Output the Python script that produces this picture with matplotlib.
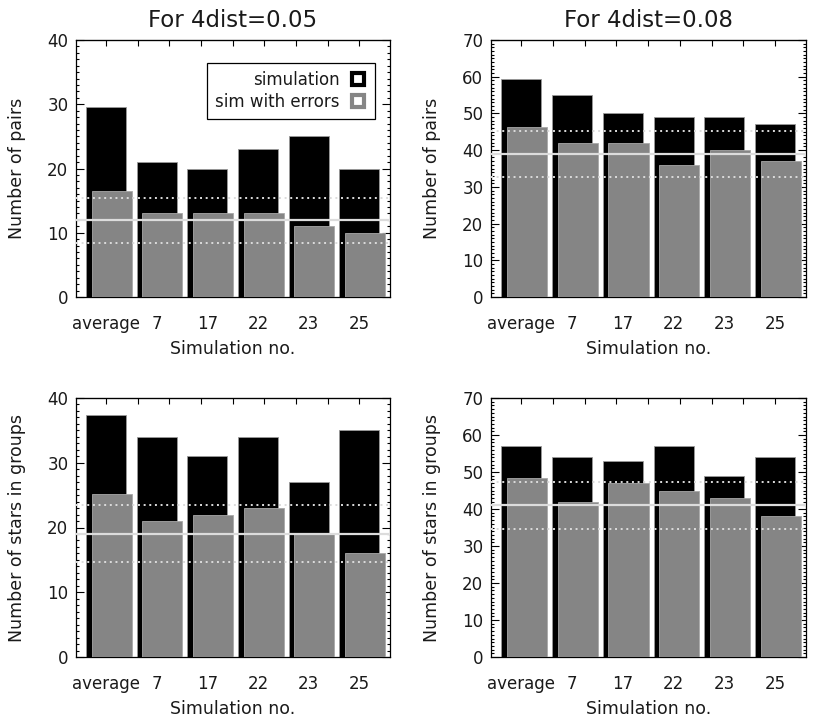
"""Four bar panels: simulated pairs / stars in groups, with and without errors."""
import matplotlib

matplotlib.use("Agg")
import matplotlib.pyplot as plt  # noqa: E402
import numpy as np  # noqa: E402
from matplotlib.lines import Line2D  # noqa: E402
from matplotlib.ticker import MultipleLocator  # noqa: E402

plt.rcParams["font.family"] = ["DejaVu Sans"]
plt.rcParams["text.color"] = "#1a1a1a"
plt.rcParams["axes.labelcolor"] = "#1a1a1a"
plt.rcParams["xtick.labelcolor"] = "#1a1a1a"
plt.rcParams["ytick.labelcolor"] = "#1a1a1a"

# ---------------------------------------------------------------- data
categories = ["average", "7", "17", "22", "23", "25"]

pairs_005_sim = [29.5, 21, 20, 23, 25, 20]
pairs_005_err = [16.5, 13, 13, 13, 11, 10]
pairs_005_band = [12.0, 8.4, 15.4]          # mean, lower, upper

pairs_008_sim = [59.5, 55, 50, 49, 49, 47]
pairs_008_err = [46.2, 42, 42, 36, 40, 37]
pairs_008_band = [39.0, 32.8, 45.2]

stars_005_sim = [37.3, 34, 31, 34, 27, 35]
stars_005_err = [25.1, 21, 22, 23, 19, 16]
stars_005_band = [19.0, 14.6, 23.4]

stars_008_sim = [57.1, 54, 53, 57, 49, 54]
stars_008_err = [48.3, 42, 47, 45, 43, 38]
stars_008_band = [41.1, 34.5, 47.3]

titles = ["For 4dist=0.05", "For 4dist=0.08"]
ylabels = ["Number of pairs", "Number of stars in groups"]
xlabel = "Simulation no."

BLACK = "#000000"
GREY = "#858585"
LINE = "#dcdcdc"
W = 0.79          # bar width
SHIFT = 0.112     # grey bar offset to the right
PX_W, PX_H = 830, 717


def rect(x0, y0, x1, y1):
    """pixel box (top-left origin) -> figure fraction rect"""
    return [x0 / PX_W, 1 - y1 / PX_H, (x1 - x0) / PX_W, (y1 - y0) / PX_H]


def panel(ax, sim, err, band, ymax, title=None, ylabel="", legend=False):
    x = np.arange(len(categories))
    ax.bar(x, sim, W, color=BLACK, edgecolor="#9a9a9a", linewidth=0.6, zorder=2)
    ax.bar(x + SHIFT, err, W, color=GREY, edgecolor="#a8a8a8", linewidth=0.6, zorder=3)
    mean, lo, hi = band
    ax.axhline(mean, color=LINE, lw=1.6, zorder=4)
    for v in (lo, hi):
        ax.axhline(v, color=LINE, lw=1.4, ls=(0, (1, 1.9)), zorder=4)

    ax.set_xlim(-0.592, len(categories) - 1 + 0.605)
    ax.set_ylim(0, ymax)

    # x: labels under black bars, tick marks under grey bars
    ax.set_xticks(x)
    ax.set_xticklabels(categories)
    ax.set_xticks(x + SHIFT, minor=True)
    ax.tick_params(axis="x", which="major", length=0, pad=13, labelsize=12)
    ax.tick_params(axis="x", which="minor", length=5, width=0.8, direction="in",
                   bottom=True, top=False)
    top = ax.secondary_xaxis("top")
    top.set_xticks(np.linspace(0, len(categories) - 1, 9))
    top.tick_params(direction="in", length=4, width=0.8, labeltop=False)

    # y: majors every 10, minors every 1, on both sides
    ax.yaxis.set_major_locator(MultipleLocator(10))
    ax.yaxis.set_minor_locator(MultipleLocator(1))
    ax.tick_params(axis="y", which="both", direction="in", left=True, right=True, width=0.8)
    ax.tick_params(axis="y", which="major", length=5.5, pad=5.5, labelsize=12)
    ax.tick_params(axis="y", which="minor", length=2.5)

    for sp in ax.spines.values():
        sp.set_linewidth(0.9)

    ax.set_xlabel(xlabel, fontsize=12.5, labelpad=5)
    ax.set_ylabel(ylabel, fontsize=12.5)
    ax.yaxis.set_label_coords(-0.188, 0.5)
    ax.yaxis.label.set_verticalalignment("center")
    if title:
        ax.set_title(title, fontsize=16.5, pad=9.5)

    if legend:
        handles = [
            Line2D([], [], ls="none", marker="s", ms=8.5, mew=3.0, mfc="white", mec=BLACK),
            Line2D([], [], ls="none", marker="s", ms=8.5, mew=3.0, mfc="white", mec=GREY),
        ]
        leg = ax.legend(handles, ["simulation", "sim with errors"], loc="upper right",
                        bbox_to_anchor=(0.952, 0.911), markerfirst=False, fontsize=12,
                        handlelength=1.0, handletextpad=0.6, labelspacing=0.22,
                        borderpad=0.5, borderaxespad=0, fancybox=False, framealpha=1,
                        edgecolor=BLACK)
        leg.get_frame().set_linewidth(0.9)
        leg.set_zorder(6)


def main():
    fig = plt.figure(figsize=(PX_W / 100, PX_H / 100), dpi=100)
    ax_tl = fig.add_axes(rect(76, 40, 390, 297))
    ax_tr = fig.add_axes(rect(491, 40, 806, 297))
    ax_bl = fig.add_axes(rect(76, 398, 390, 657))
    ax_br = fig.add_axes(rect(491, 398, 806, 657))

    panel(ax_tl, pairs_005_sim, pairs_005_err, pairs_005_band, 40, titles[0], ylabels[0],
          legend=True)
    panel(ax_tr, pairs_008_sim, pairs_008_err, pairs_008_band, 70, titles[1], ylabels[0])
    panel(ax_bl, stars_005_sim, stars_005_err, stars_005_band, 40, None, ylabels[1])
    panel(ax_br, stars_008_sim, stars_008_err, stars_008_band, 70, None, ylabels[1])

    fig.savefig("out.png", dpi=100)
    plt.close(fig)


if __name__ == "__main__":
    main()
